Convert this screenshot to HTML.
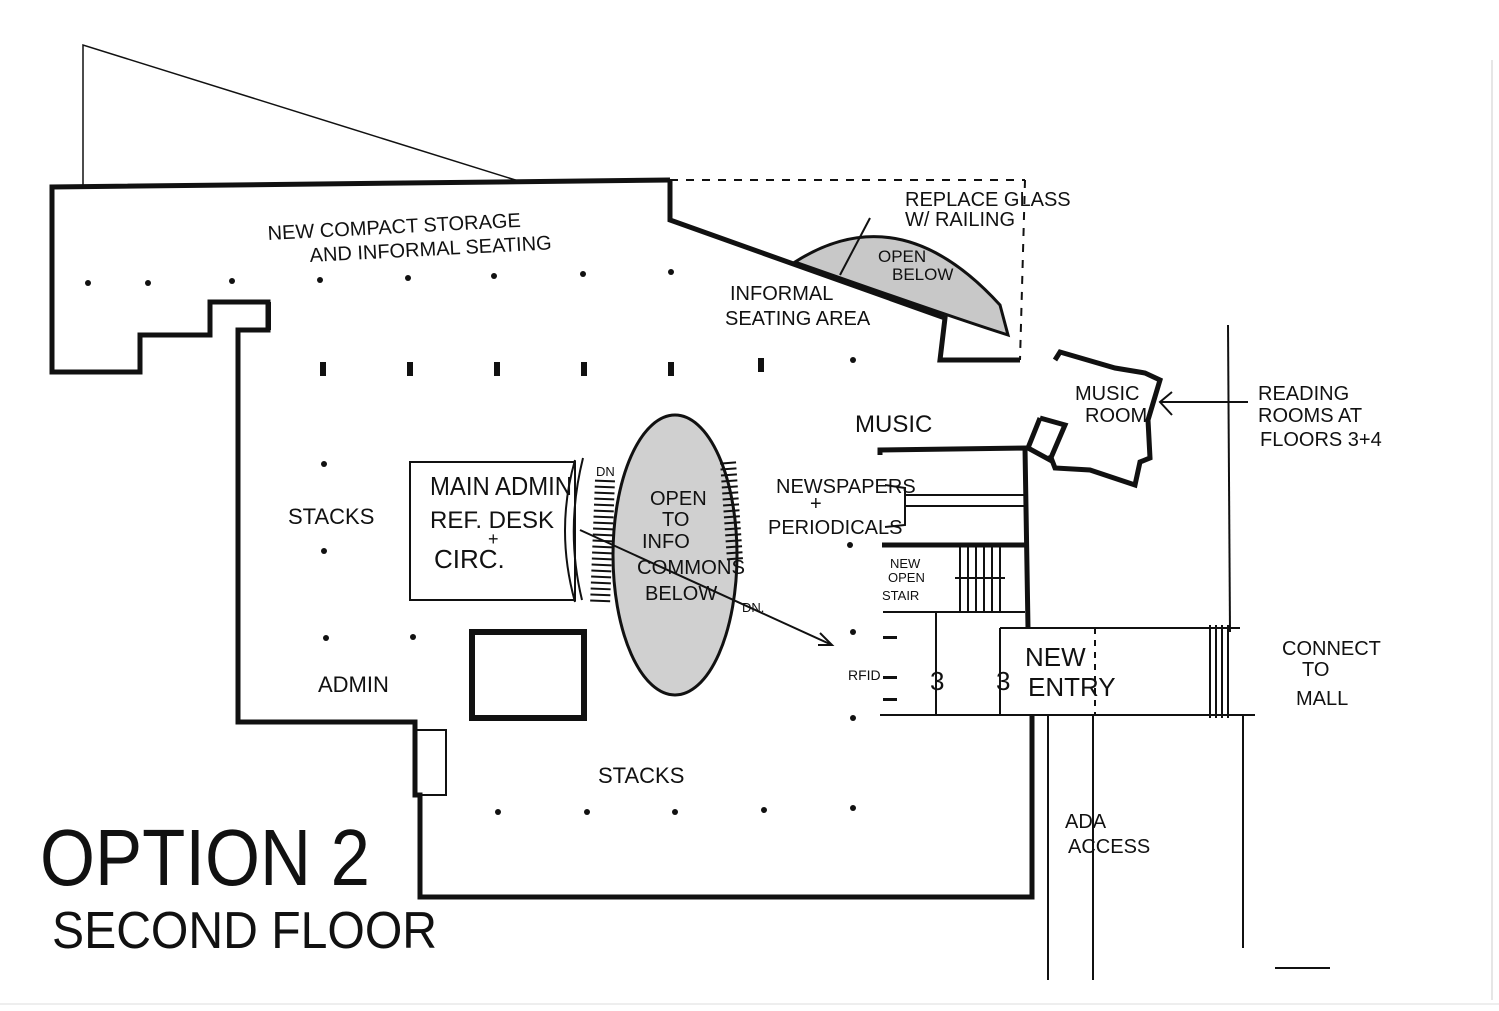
<!DOCTYPE html>
<html><head><meta charset="utf-8"><style>
html,body{margin:0;padding:0;background:#fff;}
svg{display:block}
text{font-family:"Liberation Sans Narrow","Liberation Sans",sans-serif;fill:#111;}
</style></head><body>
<svg width="1499" height="1011" viewBox="0 0 1499 1011" xmlns="http://www.w3.org/2000/svg">
<rect width="1499" height="1011" fill="#fff"/>
<line x1="1492" y1="60" x2="1492" y2="1000" stroke="#ccc" stroke-width="1"/>
<line x1="0" y1="1004" x2="1499" y2="1004" stroke="#ddd" stroke-width="1"/>
<polyline points="83,187 83,45 525,183" fill="none" stroke="#111" stroke-width="1.5"/>
<path d="M795,262 Q900,195 1000,305 L1008,335 Q960,320 795,262 Z" fill="#c8c8c8" stroke="#111" stroke-width="3"/>
<ellipse cx="675" cy="555" rx="62" ry="140" fill="#d0d0d0" stroke="#111" stroke-width="3"/>
<g fill="none" stroke="#111" stroke-width="5" stroke-linejoin="miter">
<polyline points="670,180 52,187 52,372 140,372 140,335 210,335 210,302 268,302 268,330 238,330 238,722 415,722 415,795 420,795 420,897 1032,897 1032,715"/>
<polyline points="670,180 670,220 945,318 940,360 1010,360 1020,360"/>
<polyline points="1055,360 1060,352 1115,368 1145,373 1160,380 1148,420 1150,458 1140,462 1135,485 1090,470 1055,468 1050,455"/>
<polyline points="1040,418 1065,425 1050,460 1028,448 1040,418"/>
<polyline points="880,455 880,450 1025,448 1028,628"/>
<polyline points="882,545 1025,545"/>
<rect x="472" y="632" width="112" height="86" stroke-width="6"/>
</g>
<g fill="none" stroke="#111" stroke-width="2">
<line x1="670" y1="180" x2="1025" y2="180" stroke-dasharray="8,8"/>
<line x1="1025" y1="180" x2="1020" y2="360" stroke-dasharray="8,8"/>
<rect x="410" y="462" width="165" height="138"/>
<line x1="904" y1="495" x2="1025" y2="495"/>
<line x1="904" y1="506" x2="1025" y2="506"/>
<polyline points="885,485 905,488 905,525 885,527"/>
<line x1="883" y1="612" x2="1025" y2="612"/>
<line x1="936" y1="612" x2="936" y2="715"/>
<line x1="1000" y1="628" x2="1240" y2="628"/>
<line x1="880" y1="715" x2="1255" y2="715"/>
<line x1="1000" y1="628" x2="1000" y2="715"/>
<line x1="1095" y1="628" x2="1095" y2="715" stroke-dasharray="6,6"/>
<line x1="1228" y1="325" x2="1230" y2="632"/>
<line x1="1243" y1="715" x2="1243" y2="948"/>
<line x1="1048" y1="715" x2="1048" y2="980"/>
<line x1="1093" y1="715" x2="1093" y2="980"/>
<line x1="1160" y1="402" x2="1248" y2="402"/>
<polyline points="1172,392 1160,402 1172,415"/>
<line x1="580" y1="530" x2="832" y2="645"/>
<polyline points="820,633 832,645 818,645"/>
<path d="M575,460 Q555,530 575,602"/>
<path d="M583,458 Q565,530 582,600"/>
<line x1="870" y1="218" x2="840" y2="275"/>
<rect x="416" y="730" width="30" height="65"/>
<line x1="1275" y1="968" x2="1330" y2="968"/>
<line x1="270" y1="302" x2="270" y2="330"/>
</g>
<g stroke="#111" stroke-width="2">
<line x1="960" y1="545" x2="960" y2="612"/><line x1="968" y1="545" x2="968" y2="612"/><line x1="976" y1="545" x2="976" y2="612"/>
<line x1="984" y1="545" x2="984" y2="612"/><line x1="992" y1="545" x2="992" y2="612"/><line x1="1000" y1="545" x2="1000" y2="612"/>
<line x1="955" y1="578" x2="1005" y2="578"/>
<line x1="1210" y1="625" x2="1210" y2="718"/><line x1="1216" y1="625" x2="1216" y2="718"/><line x1="1222" y1="625" x2="1222" y2="718"/><line x1="1228" y1="625" x2="1228" y2="718"/>
</g>
<g stroke="#111" stroke-width="2.5">
<line x1="605" y1="480" x2="600" y2="605" stroke-dasharray="2,4" stroke-width="20" transform="rotate(0)"/>
<line x1="728" y1="462" x2="735" y2="560" stroke-dasharray="2,4" stroke-width="16"/>
</g>
<g fill="#111">
<rect x="320" y="362" width="6" height="14"/><rect x="407" y="362" width="6" height="14"/><rect x="494" y="362" width="6" height="14"/>
<rect x="581" y="362" width="6" height="14"/><rect x="668" y="362" width="6" height="14"/><rect x="758" y="358" width="6" height="14"/>
<circle cx="88" cy="283" r="3"/><circle cx="148" cy="283" r="3"/><circle cx="232" cy="281" r="3"/><circle cx="320" cy="280" r="3"/><circle cx="408" cy="278" r="3"/><circle cx="494" cy="276" r="3"/><circle cx="583" cy="274" r="3"/><circle cx="671" cy="272" r="3"/>
<circle cx="324" cy="464" r="3"/><circle cx="324" cy="551" r="3"/><circle cx="326" cy="638" r="3"/><circle cx="413" cy="637" r="3"/>
<circle cx="853" cy="360" r="3"/><circle cx="850" cy="545" r="3"/><circle cx="853" cy="632" r="3"/><circle cx="853" cy="718" r="3"/>
<circle cx="498" cy="812" r="3"/><circle cx="587" cy="812" r="3"/><circle cx="675" cy="812" r="3"/><circle cx="764" cy="810" r="3"/><circle cx="853" cy="808" r="3"/>
<rect x="883" y="636" width="14" height="3"/><rect x="883" y="676" width="14" height="3"/><rect x="883" y="698" width="14" height="3"/>
</g>
<g font-size="20">
<text x="268" y="240" transform="rotate(-3 268 240)">NEW COMPACT STORAGE</text>
<text x="310" y="262" transform="rotate(-3 310 262)">AND INFORMAL SEATING</text>
<text x="905" y="206">REPLACE GLASS</text>
<text x="905" y="226">W/ RAILING</text>
<text x="878" y="262" font-size="17">OPEN</text>
<text x="892" y="280" font-size="17">BELOW</text>
<text x="730" y="300">INFORMAL</text>
<text x="725" y="325">SEATING AREA</text>
<text x="1075" y="400">MUSIC</text>
<text x="1085" y="422">ROOM</text>
<text x="1258" y="400">READING</text>
<text x="1258" y="422">ROOMS AT</text>
<text x="1260" y="446">FLOORS 3+4</text>
<text x="855" y="432" font-size="24">MUSIC</text>
<text x="776" y="493">NEWSPAPERS</text>
<text x="810" y="510">+</text>
<text x="768" y="534">PERIODICALS</text>
<text x="890" y="568" font-size="13">NEW</text>
<text x="888" y="582" font-size="13">OPEN</text>
<text x="882" y="600" font-size="13">STAIR</text>
<text x="848" y="680" font-size="14">RFID</text>
<text x="1025" y="666" font-size="26">NEW</text>
<text x="1028" y="696" font-size="26">ENTRY</text>
<text x="1282" y="655">CONNECT</text>
<text x="1302" y="676">TO</text>
<text x="1296" y="705">MALL</text>
<text x="1065" y="828">ADA</text>
<text x="1068" y="853">ACCESS</text>
<text x="288" y="524" font-size="22">STACKS</text>
<text x="598" y="783" font-size="22">STACKS</text>
<text x="318" y="692" font-size="22">ADMIN</text>
<text x="430" y="495" font-size="26" textLength="142" lengthAdjust="spacingAndGlyphs">MAIN ADMIN</text>
<text x="430" y="528" font-size="24">REF. DESK</text>
<text x="488" y="545" font-size="18">+</text>
<text x="434" y="568" font-size="26">CIRC.</text>
<text x="650" y="505" font-size="20">OPEN</text>
<text x="662" y="526" font-size="20">TO</text>
<text x="642" y="548" font-size="20">INFO</text>
<text x="637" y="574" font-size="20" textLength="108" lengthAdjust="spacingAndGlyphs">COMMONS</text>
<text x="645" y="600" font-size="20">BELOW</text>
<text x="596" y="476" font-size="13">DN</text>
<text x="742" y="612" font-size="13">DN.</text>
<text x="40" y="885" font-size="80" textLength="330" lengthAdjust="spacingAndGlyphs">OPTION 2</text>
<text x="52" y="948" font-size="52" textLength="385" lengthAdjust="spacingAndGlyphs">SECOND FLOOR</text>
</g>
<g font-size="26"><text x="930" y="690">3</text><text x="996" y="690">3</text></g>
</svg>
</body></html>
